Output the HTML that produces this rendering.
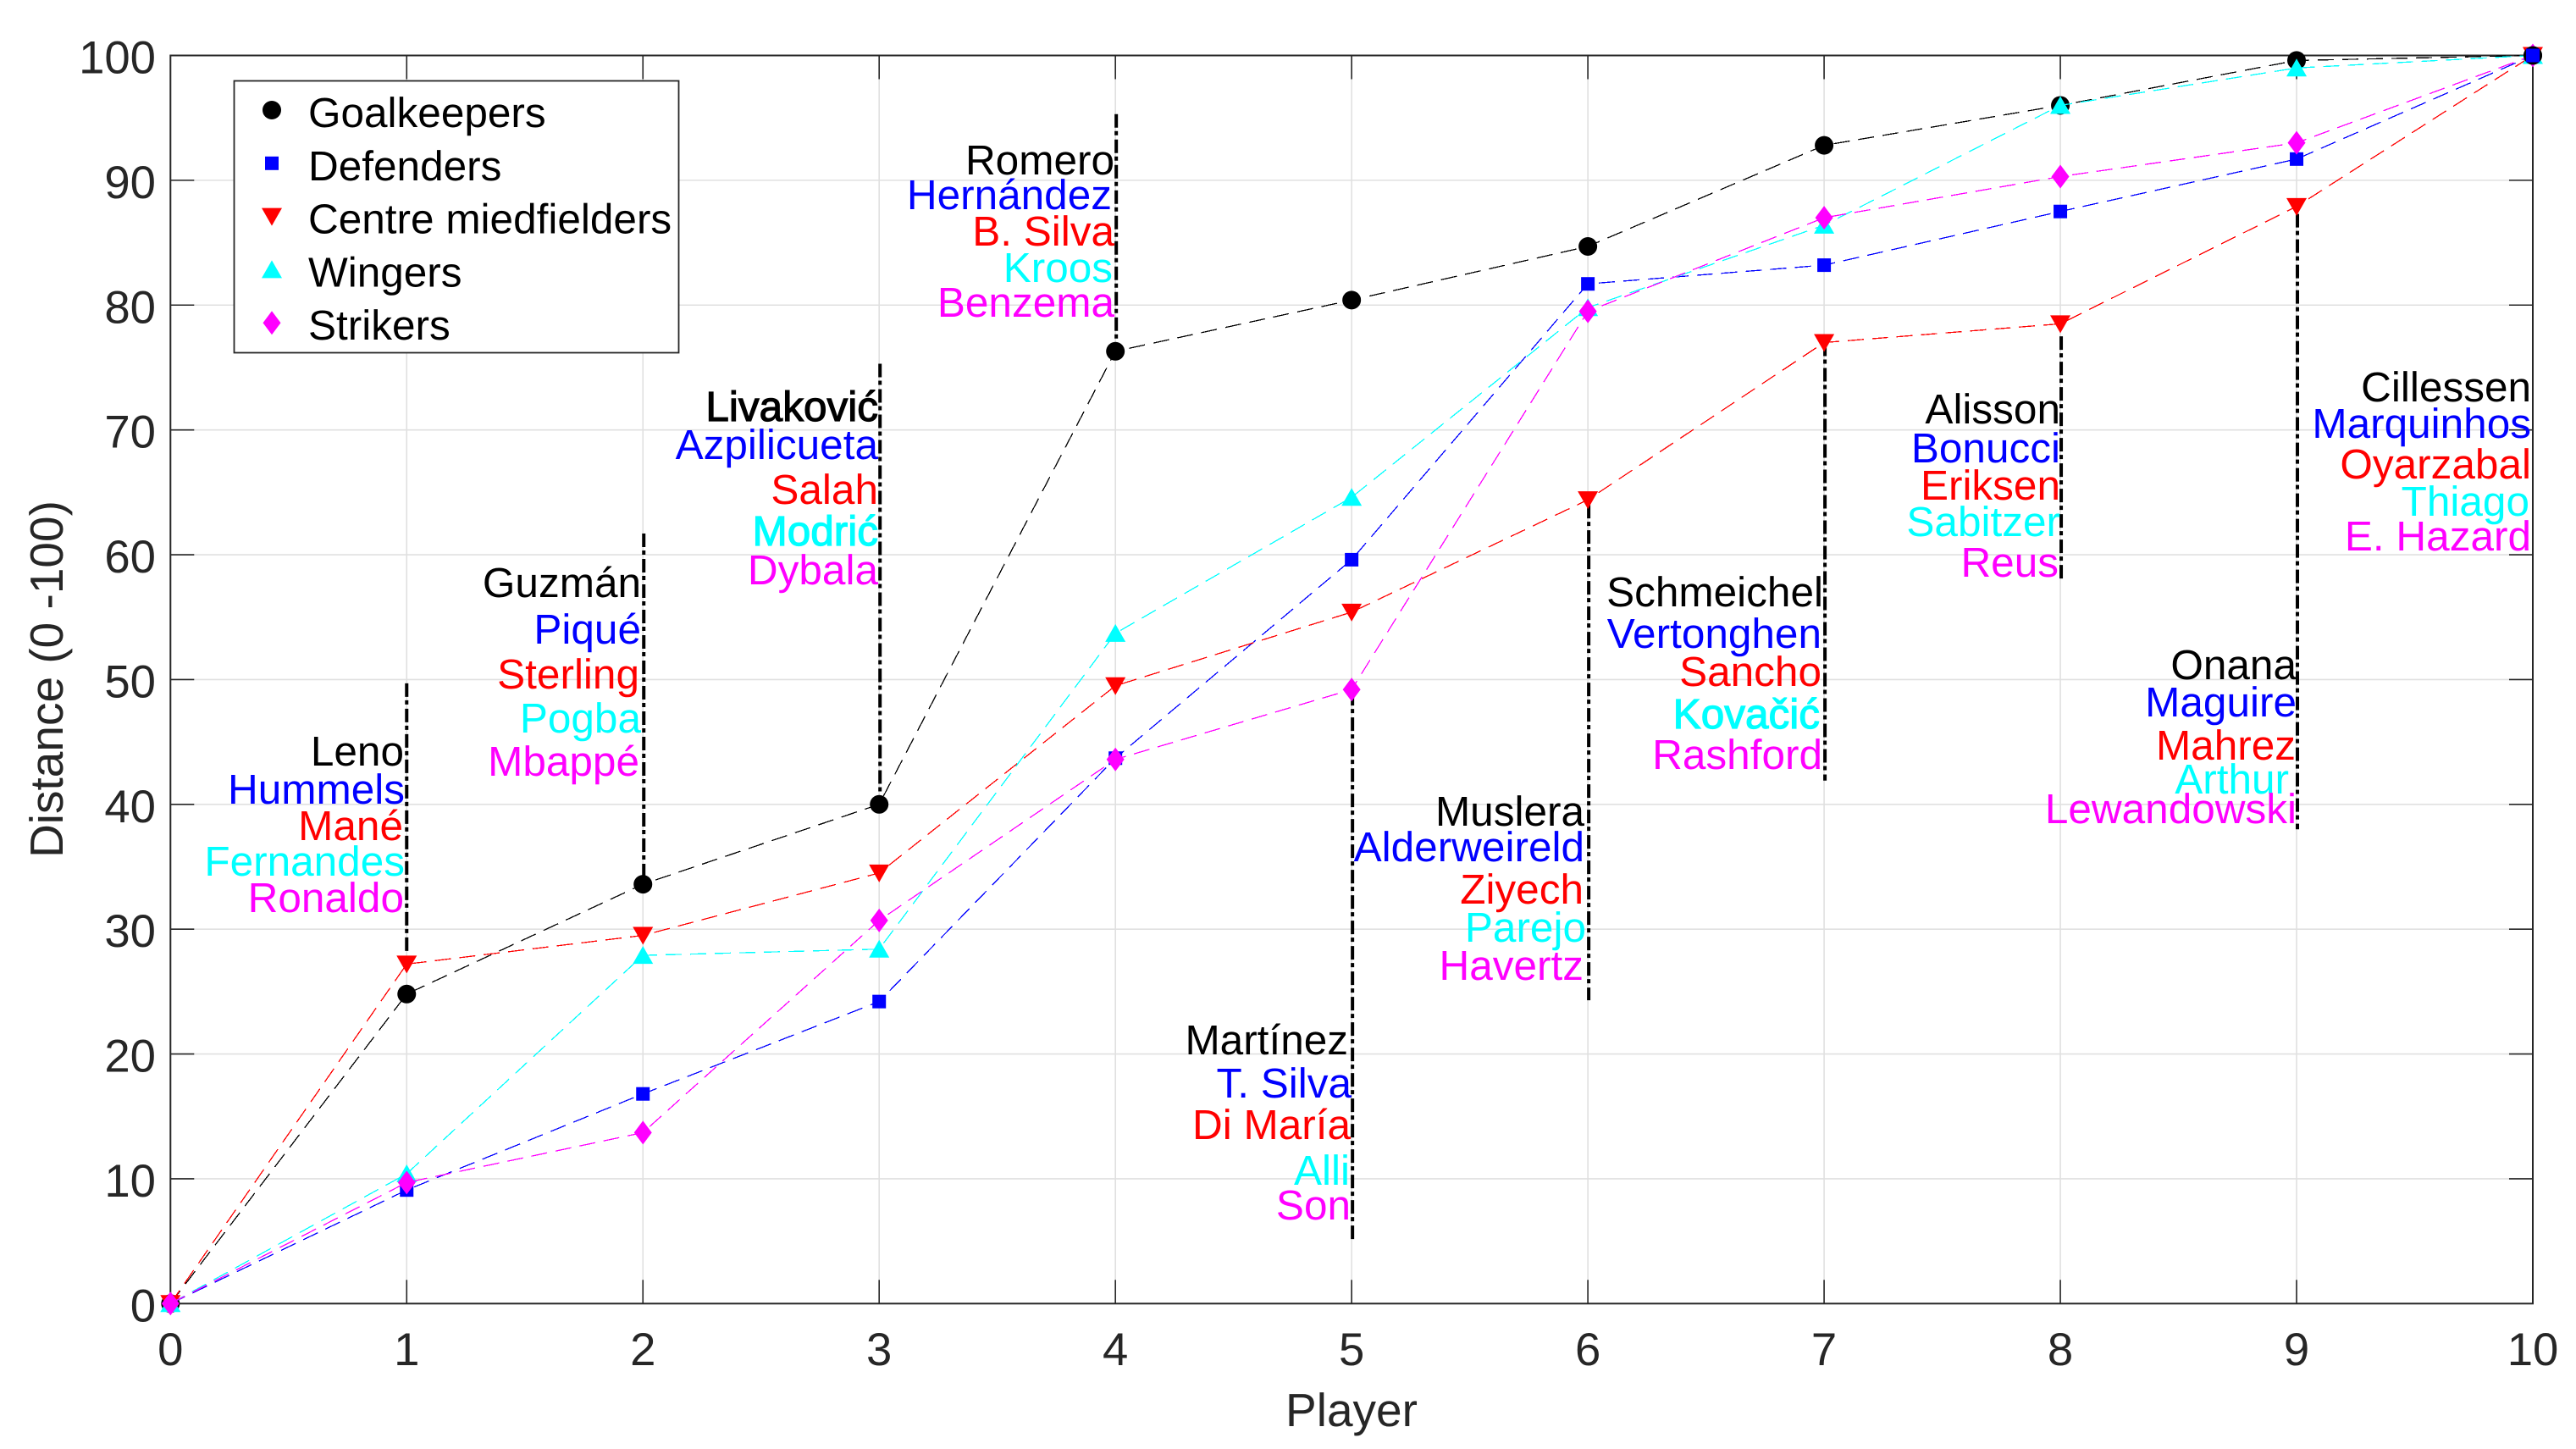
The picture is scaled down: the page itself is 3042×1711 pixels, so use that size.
<!DOCTYPE html>
<html>
<head>
<meta charset="utf-8">
<title>Distance by player chart</title>
<style>
html,body{margin:0;padding:0;background:#fff;width:3042px;height:1711px;overflow:hidden}
svg{display:block;font-family:"Liberation Sans",Arial,sans-serif;text-rendering:geometricPrecision}
.n{font-size:49.5px;text-anchor:end}
.k{fill:#000}.b{fill:#00f}.r{fill:#f00}.c{fill:#0ff}.m{fill:#f0f}
.bold{stroke-width:1.2px}
.k.bold{stroke:#000}.c.bold{stroke:#0ff}
.tick{font-size:54.5px;fill:#262626}
.lg{font-size:49.5px;fill:#000}
</style>
</head>
<body>
<svg id="chart" width="3042" height="1711" viewBox="0 0 3042 1711" xmlns="http://www.w3.org/2000/svg">
  <rect x="0" y="0" width="3042" height="1711" fill="#fff"/>
  <g id="grid"></g>
  <g id="annot-lines"></g>
  <g id="axes"></g>
  <g id="series"></g>

  <g>
    <g>
      <text class="n k" x="477" y="904">Leno</text>
      <text class="n b" x="478" y="949">Hummels</text>
      <text class="n r" x="476" y="992">Mané</text>
      <text class="n c" x="478" y="1034">Fernandes</text>
      <text class="n m" x="477" y="1077">Ronaldo</text>
    </g>
    <g>
      <text class="n k" x="757" y="705">Guzmán</text>
      <text class="n b" x="757" y="760">Piqué</text>
      <text class="n r" x="755" y="813">Sterling</text>
      <text class="n c" x="757" y="865">Pogba</text>
      <text class="n m" x="755" y="916">Mbappé</text>
    </g>
    <g>
      <text class="n k bold" x="1037" y="497">Livaković</text>
      <text class="n b" x="1037" y="542">Azpilicueta</text>
      <text class="n r" x="1037" y="595">Salah</text>
      <text class="n c bold" x="1037" y="644">Modrić</text>
      <text class="n m" x="1037" y="690">Dybala</text>
    </g>
    <g>
      <text class="n k" x="1316" y="206">Romero</text>
      <text class="n b" x="1313" y="247">Hernández</text>
      <text class="n r" x="1316" y="290">B. Silva</text>
      <text class="n c" x="1314" y="333">Kroos</text>
      <text class="n m" x="1316" y="374">Benzema</text>
    </g>
    <g>
      <text class="n k" x="1592" y="1245">Martínez</text>
      <text class="n b" x="1596" y="1296">T. Silva</text>
      <text class="n r" x="1595" y="1345">Di María</text>
      <text class="n c" x="1594" y="1399">Alli</text>
      <text class="n m" x="1595" y="1440">Son</text>
    </g>
    <g>
      <text class="n k" x="1871" y="975">Muslera</text>
      <text class="n b" x="1871" y="1017">Alderweireld</text>
      <text class="n r" x="1870" y="1067">Ziyech</text>
      <text class="n c" x="1873" y="1112">Parejo</text>
      <text class="n m" x="1870" y="1157">Havertz</text>
    </g>
    <g>
      <text class="n k" x="2153" y="716">Schmeichel</text>
      <text class="n b" x="2151" y="765">Vertonghen</text>
      <text class="n r" x="2151" y="810">Sancho</text>
      <text class="n c bold" x="2149" y="860">Kovačić</text>
      <text class="n m" x="2152" y="908">Rashford</text>
    </g>
    <g>
      <text class="n k" x="2433" y="500">Alisson</text>
      <text class="n b" x="2433" y="546">Bonucci</text>
      <text class="n r" x="2433" y="590">Eriksen</text>
      <text class="n c" x="2433" y="633">Sabitzer</text>
      <text class="n m" x="2431" y="681">Reus</text>
    </g>
    <g>
      <text class="n k" x="2712" y="802">Onana</text>
      <text class="n b" x="2712" y="846">Maguire</text>
      <text class="n r" x="2711" y="897">Mahrez</text>
      <text class="n c" x="2703" y="937">Arthur</text>
      <text class="n m" x="2712" y="972">Lewandowski</text>
    </g>
    <g>
      <text class="n k" x="2989" y="474">Cillessen</text>
      <text class="n b" x="2989" y="517">Marquinhos</text>
      <text class="n r" x="2989" y="565">Oyarzabal</text>
      <text class="n c" x="2987" y="609">Thiago</text>
      <text class="n m" x="2989" y="650">E. Hazard</text>
    </g>
  </g>

  <text x="1596" y="1684" font-size="55" fill="#262626" text-anchor="middle">Player</text>
  <text transform="translate(74 802) rotate(-90)" font-size="55" fill="#262626" text-anchor="middle">Distance (0 -100)</text>

  <g id="legend"></g>
</svg>
<script>
const players = [0, 1, 2, 3, 4, 5, 6, 7, 8, 9, 10];
const goalkeepers = [0, 24.8, 33.6, 40, 76.3, 80.4, 84.7, 92.8, 96, 99.6, 100];
const defenders = [0, 9.1, 16.8, 24.2, 43.7, 59.6, 81.7, 83.2, 87.5, 91.7, 100];
const centreMidfielders = [0, 27.2, 29.5, 34.5, 49.5, 55.4, 64.4, 77, 78.5, 87.9, 100];
const wingers = [0, 10.4, 27.9, 28.4, 53.7, 64.6, 79.8, 86.4, 96, 99, 100];
const strikers = [0, 9.7, 13.7, 30.7, 43.6, 49.2, 79.5, 87, 90.3, 93, 100];
const xTickLabels = [0, 1, 2, 3, 4, 5, 6, 7, 8, 9, 10];
const yTickLabels = [0, 10, 20, 30, 40, 50, 60, 70, 80, 90, 100];
const annotationPlayers = [1, 2, 3, 4, 5, 6, 7, 8, 9];
const annotationTops = [49.7, 61.7, 75.3, 95.3, 49, 64, 77, 77.5, 87.3];
const annotationBottoms = [28, 34, 40.7, 77, 5, 24.3, 41.9, 57.9, 38];
const seriesNames = ['Goalkeepers', 'Defenders', 'Centre miedfielders', 'Wingers', 'Strikers'];

const NS = 'http://www.w3.org/2000/svg';
const LEFT = 201.3, RIGHT = 2991, TOP = 65.5, BOTTOM = 1539.3;
function xScale(v) { return LEFT + (v / 10) * (RIGHT - LEFT); }
function yScale(v) { return BOTTOM - (v / 100) * (BOTTOM - TOP); }
function mk(tag, attrs, parent) {
  const el = document.createElementNS(NS, tag);
  for (const k in attrs) el.setAttribute(k, attrs[k]);
  parent.appendChild(el);
  return el;
}
const gridG = document.getElementById('grid');
const axesG = document.getElementById('axes');
const annotG = document.getElementById('annot-lines');
const seriesG = document.getElementById('series');
const legendG = document.getElementById('legend');
const GRID = '#e0e0e0', AX = '#262626';

xTickLabels.forEach(function (t) {
  const x = xScale(t);
  if (t > 0 && t < 10) {
    const g = mk('line', { x1: x, x2: x, y1: TOP, y2: BOTTOM, stroke: GRID, 'stroke-width': 1.6 }, gridG);
    
    
    const a = mk('line', { x1: x, x2: x, y1: BOTTOM, y2: BOTTOM - 28, stroke: AX, 'stroke-width': 1.6 }, axesG);
    
    
    const b = mk('line', { x1: x, x2: x, y1: TOP, y2: TOP + 28, stroke: AX, 'stroke-width': 1.6 }, axesG);
    
    
  }
  const l = mk('text', { x: x, y: 1612, class: 'tick', 'text-anchor': 'middle' }, axesG);
  
  
  l.textContent = t;
});
yTickLabels.forEach(function (t) {
  const y = yScale(t);
  if (t > 0 && t < 100) {
    const g = mk('line', { x1: LEFT, x2: RIGHT, y1: y, y2: y, stroke: GRID, 'stroke-width': 1.6 }, gridG);
    
    
    const a = mk('line', { x1: LEFT, x2: LEFT + 28, y1: y, y2: y, stroke: AX, 'stroke-width': 1.6 }, axesG);
    
    
    const b = mk('line', { x1: RIGHT, x2: RIGHT - 28, y1: y, y2: y, stroke: AX, 'stroke-width': 1.6 }, axesG);
    
    
  }
  const l = mk('text', { x: 184, y: y + 21, class: 'tick', 'text-anchor': 'end' }, axesG);
  
  
  l.textContent = t;
});
const box = mk('rect', { x: LEFT, y: TOP, width: RIGHT - LEFT, height: BOTTOM - TOP, fill: 'none', stroke: AX, 'stroke-width': 2 }, axesG);



annotationPlayers.forEach(function (p, i) {
  const x = xScale(p) + (p === 1 ? 0 : 1);
  const l = mk('line', {
    x1: x, x2: x, y1: yScale(annotationTops[i]), y2: yScale(annotationBottoms[i]),
    stroke: '#000', 'stroke-width': 4, 'stroke-dasharray': '16 4 5 5'
  }, annotG);
  
  
});

function drawMarker(shape, cx, cy, color, parent) {
  let el;
  if (shape === 'circle') {
    el = mk('circle', { cx: cx, cy: cy, r: 11, fill: color }, parent);
  } else if (shape === 'square') {
    el = mk('rect', { x: cx - 8, y: cy - 8, width: 16, height: 16, fill: color }, parent);
  } else if (shape === 'down') {
    el = mk('polygon', { points: [[cx - 12, cy - 10], [cx + 12, cy - 10], [cx, cy + 11]].join(' '), fill: color }, parent);
  } else if (shape === 'up') {
    el = mk('polygon', { points: [[cx - 12, cy + 10], [cx + 12, cy + 10], [cx, cy - 11]].join(' '), fill: color }, parent);
  } else {
    el = mk('polygon', { points: [[cx, cy - 14], [cx + 10.5, cy], [cx, cy + 14], [cx - 10.5, cy]].join(' '), fill: color }, parent);
  }
  return el;
}

const allValues = [goalkeepers, defenders, centreMidfielders, wingers, strikers];
const colors = ['#000', '#00f', '#f00', '#0ff', '#f0f'];
const shapes = ['circle', 'square', 'down', 'up', 'diamond'];
const slugs = ['goalkeepers', 'defenders', 'centre-midfielders', 'wingers', 'strikers'];

allValues.forEach(function (vals, i) {
  const pts = vals.map(function (v, j) { return xScale(players[j]) + ',' + yScale(v); }).join(' ');
  const line = mk('polyline', {
    points: pts, fill: 'none', stroke: colors[i], 'stroke-width': 1.3,
    'stroke-dasharray': '19 10', 'shape-rendering': 'crispEdges'
  }, seriesG);
  
  
  vals.forEach(function (v, j) {
    const m = drawMarker(shapes[i], xScale(players[j]), yScale(v), colors[i], seriesG);
    
    
  });
});
const lastIdx = players.length - 1;
const topCircle = drawMarker('circle', xScale(players[lastIdx]), yScale(goalkeepers[lastIdx]), '#000', seriesG);


const topSquare = drawMarker('square', xScale(players[lastIdx]), yScale(defenders[lastIdx]), '#00f', seriesG);



const lgBox = mk('rect', { x: 276.5, y: 95.5, width: 525, height: 321, fill: '#fff', stroke: AX, 'stroke-width': 1.8 }, legendG);


seriesNames.forEach(function (name, i) {
  const rowY = 130 + i * 62.8;
  const mkr = drawMarker(shapes[i], 321, rowY, colors[i], legendG);
  
  
  const t = mk('text', { x: 364, y: 150 + i * 62.8, class: 'lg' }, legendG);
  
  
  t.textContent = name;
});
</script>
</body>
</html>
